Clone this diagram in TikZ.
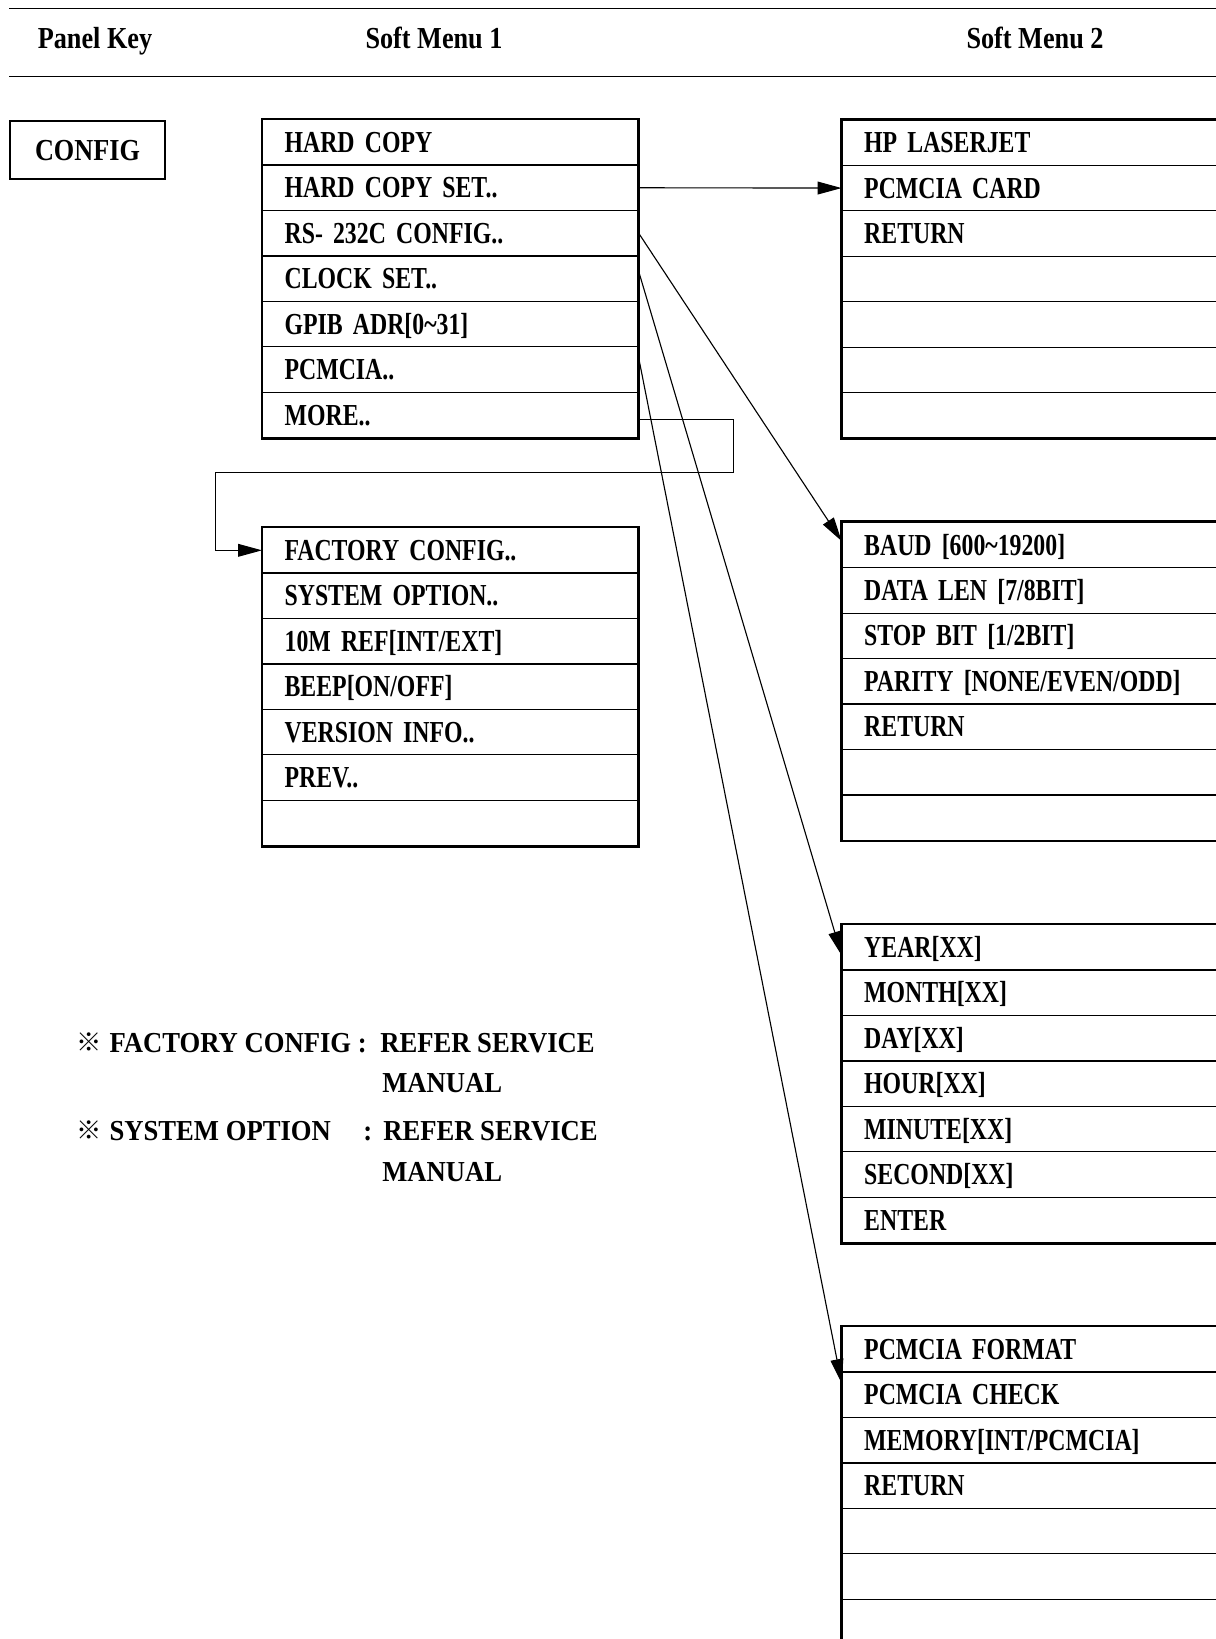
\documentclass[tikz,border=0pt]{standalone}
\usepackage{fontspec}
\setmainfont{Liberation Serif}
\newfontfamily\menufont{Liberation Serif}[FakeStretch=0.78]
\newfontfamily\headfont{Liberation Serif}[FakeStretch=0.86]
\newfontfamily\notefont{Liberation Serif}[FakeStretch=0.92]
\newfontfamily\cjk{Noto Sans CJK SC}
\usetikzlibrary{arrows.meta}

\tikzset{
  menurow/.style={draw, line width=0.3mm, anchor=north west, inner xsep=5.5mm, inner ysep=0pt,
    minimum height=11.36mm, text height=5mm, text depth=0pt, text width=#1, align=left,
    font=\menufont\bfseries\fontsize{21.7}{26}\selectfont},
  menubox/.style={line width=0.65mm},
  head/.style={inner sep=0pt, text height=5mm, text depth=0pt,
    font=\headfont\bfseries\fontsize{21.7}{26}\selectfont},
  note/.style={inner sep=0pt, anchor=base west, font=\notefont\bfseries\fontsize{20.6}{24}\selectfont},
  refmark/.style={note, font=\cjk\fontsize{18}{22}\selectfont},
  arr/.style={line width=0.28mm, -{Triangle[length=6mm,width=3.2mm]}}
}

\begin{document}
\begin{tikzpicture}[x=0.25mm,y=-0.25mm]
\path[use as bounding box] (0,0) rectangle (1216,1639);
\clip (0,0) rectangle (1216,1639);

% header
\draw[line width=0.35mm] (9,8.3) -- (1216,8.3);
\node[head] (pkey) at (95,38) {Panel Key};
\node[head] (smone) at (434,38) {Soft Menu 1};
\node[head] (smtwo) at (1035,38) {Soft Menu 2};
\draw[line width=0.35mm] (9,76.7) -- (1216,76.7);

\node[head, draw, line width=0.6mm, minimum width=38.75mm, minimum height=14.5mm] (config) at (87.5,150) {CONFIG};

% soft menu 1
\foreach \txt [count=\i] in {HARD COPY, HARD COPY SET.., RS- 232C CONFIG.., CLOCK SET..,
    GPIB ADR[0\textasciitilde31], PCMCIA.., MORE..}
  \node[menurow=82.875mm] (hc\i) at (262,{119+(\i-1)*45.45}) {\txt};
\draw[menubox] (hc1.north west) rectangle (hc7.south east);

\foreach \txt [count=\i] in {FACTORY CONFIG.., SYSTEM OPTION.., 10M REF[INT/EXT], BEEP[ON/OFF],
    VERSION INFO.., PREV.., {}}
  \node[menurow=82.875mm] (mr\i) at (262,{527+(\i-1)*45.45}) {\txt};
\draw[menubox] (mr1.north west) rectangle (mr7.south east);

% soft menu 2
\foreach \txt [count=\i] in {HP LASERJET, PCMCIA CARD, RETURN, {}, {}, {}, {}}
  \node[menurow=94mm] (pr\i) at (841.6,{119.3+(\i-1)*45.45}) {\txt};
\draw[menubox] (pr1.north west) rectangle (pr7.south east);

\foreach \txt [count=\i] in {BAUD [600\textasciitilde19200], DATA LEN [7/8BIT], STOP BIT [1/2BIT],
    PARITY [NONE/EVEN/ODD], RETURN, {}, {}}
  \node[menurow=94mm] (rs\i) at (841.6,{521.7+(\i-1)*45.45}) {\txt};
\draw[menubox] (rs1.north west) rectangle (rs7.south east);

\foreach \txt [count=\i] in {YEAR[XX], MONTH[XX], DAY[XX], HOUR[XX], MINUTE[XX], SECOND[XX], ENTER}
  \node[menurow=94mm] (ck\i) at (841.6,{924+(\i-1)*45.45}) {\txt};
\draw[menubox] (ck1.north west) rectangle (ck7.south east);

\foreach \txt [count=\i] in {PCMCIA FORMAT, PCMCIA CHECK, MEMORY[INT/PCMCIA], RETURN, {}, {}, {}}
  \node[menurow=94mm] (pc\i) at (841.6,{1326+(\i-1)*45.45}) {\txt};
\draw[menubox] (pc1.north west) rectangle (pc7.south east);

% links
\draw[arr] (hc2.east) -- (pr2.west);
\draw[arr] (hc3.east) -- ([yshift=1mm]rs1.west);
\draw[arr] ([yshift=1.8mm]hc4.east) -- ([yshift=-2mm]ck1.west);
\draw[arr] ([yshift=2.9mm]hc6.east) -- ([yshift=-2.6mm]pc1.south west);

\coordinate (mright) at (733.6,472.7);
\coordinate (mleft) at (215.7,472.7);
\draw[arr] ([yshift=-1.1mm]hc7.east) -| (mright) -- (mleft) |- (mr1.west);

% notes
\node[refmark] (fcmark) at (76,1051) {※};
\node[note] (fcname) at (109.3,1052.3) {FACTORY CONFIG :};
\node[note] (fcref) at (380,1052.3) {REFER SERVICE};
\node[note] (fcman) at (382,1092.7) {MANUAL};
\node[refmark] (somark) at (76,1139) {※};
\node[note] (soname) at (109.3,1140) {SYSTEM OPTION};
\node[note] (socolon) at (363,1140) {:};
\node[note] (soref) at (383,1140) {REFER SERVICE};
\node[note] (soman) at (382,1181.7) {MANUAL};

\end{tikzpicture}
\end{document}
